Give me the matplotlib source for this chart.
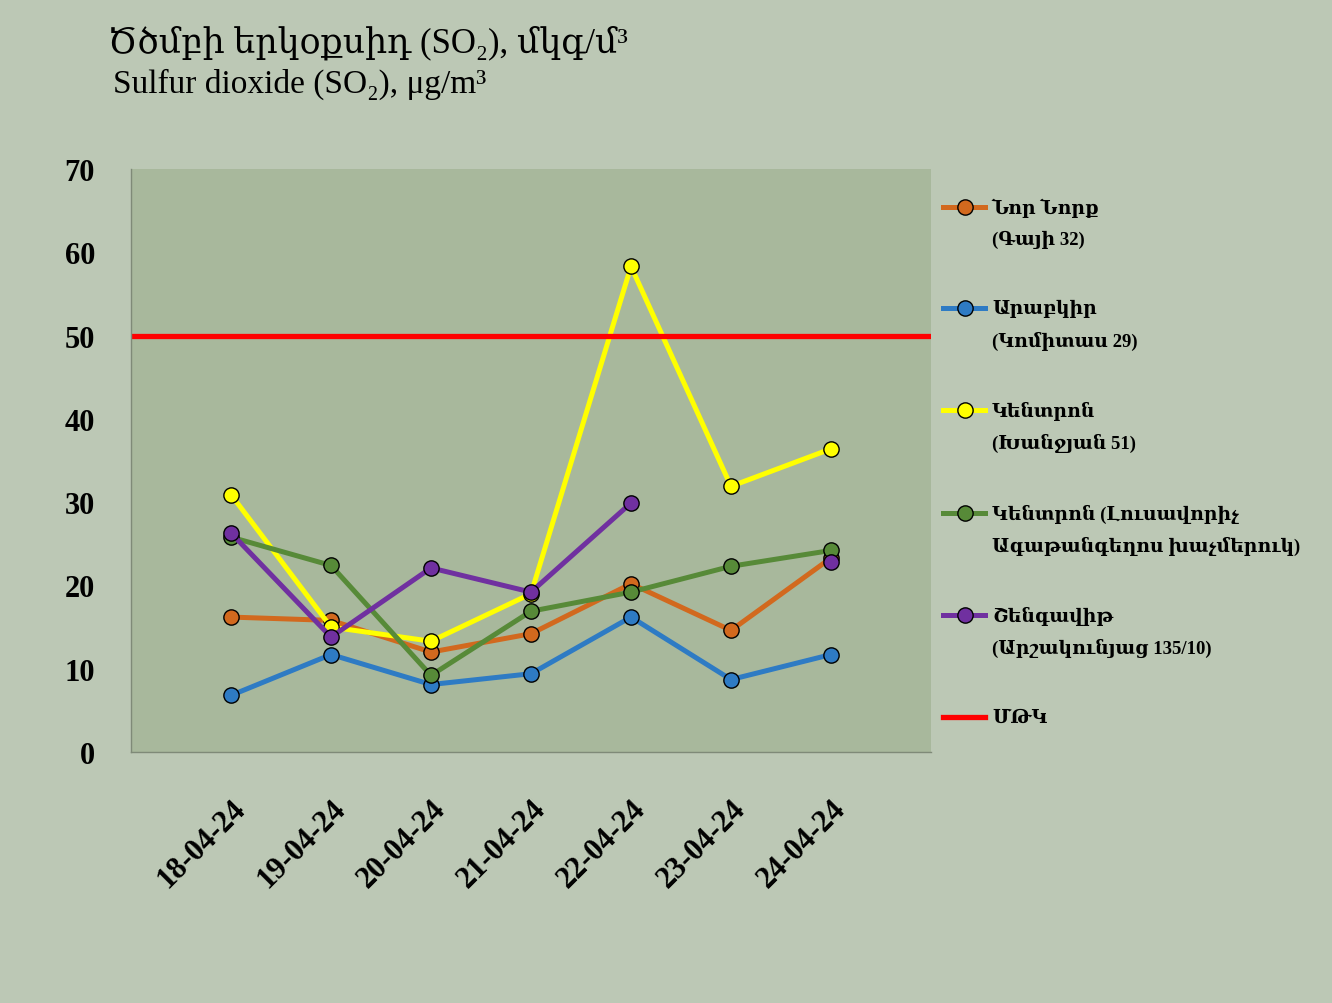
import numpy as np
import matplotlib.pyplot as plt
from matplotlib.lines import Line2D

plt.rcParams['font.family'] = ['Liberation Serif', 'DejaVu Serif']

# Data
dates = ['18-04-24', '19-04-24', '20-04-24', '21-04-24', '22-04-24', '23-04-24', '24-04-24']
nor_nork = [16.2, 15.8, 12.0, 14.2, 20.2, 14.6, 23.3]
arabkir = [6.8, 11.7, 8.1, 9.4, 16.2, 8.7, 11.7]
kentron_khanjyan = [30.9, 15.0, 13.3, 19.0, 58.3, 31.9, 36.4]
kentron_lusavorich = [25.8, 22.4, 9.2, 16.9, 19.2, 22.3, 24.2]
shengavit = [26.3, 13.8, 22.1, 19.2, 29.9, np.nan, 22.8]
mtk = 50

labels = ['Նոր Նորք\n(Գայի 32)',
          'Արաբկիր\n(Կոմիտաս 29)',
          'Կենտրոն\n(Խանջյան 51)',
          'Կենտրոն (Լուսավորիչ\nԱգաթանգեղոս խաչմերուկ)',
          'Շենգավիթ\n(Արշակունյաց 135/10)']
mtk_label = 'ՄԹԿ'
colors = ['#D2691E', '#2E7BC4', '#FFFF00', '#578A38', '#7030A0']

W, H = 1332, 1004
fig = plt.figure(figsize=(W / 100, H / 100), dpi=100, facecolor='#BCC8B5')
ax = fig.add_axes([131/W, 1 - 753/H, 800/W, 583/H])
ax.set_facecolor('#A8B89C')

x = np.arange(len(dates))
series = [nor_nork, arabkir, kentron_khanjyan, kentron_lusavorich, shengavit]
for vals, c in zip(series, colors):
    ax.plot(x, vals, color=c, lw=3.6, marker='o', ms=11,
            markerfacecolor=c, markeredgecolor='black', markeredgewidth=1)
ax.axhline(mtk, color='#FF0000', lw=3.8)

ax.set_xlim(-1, 7)
ax.set_ylim(0, 70)
ax.set_yticks(range(0, 71, 10))
ax.set_xticks(x)
ax.set_xticklabels(dates, rotation=45, ha='right', rotation_mode='anchor')
ax.tick_params(axis='both', length=0, labelsize=22)
ax.tick_params(axis='y', pad=26)
ax.tick_params(axis='x', pad=30)
for t in ax.get_xticklabels() + ax.get_yticklabels():
    t.set_fontweight('bold')

for s in ['top', 'right']:
    ax.spines[s].set_visible(False)
for s in ['left', 'bottom']:
    ax.spines[s].set_color('#7F8A78')
    ax.spines[s].set_linewidth(1)

# legend drawn by hand so the handle sits on the first text line
entry_y = [208, 309, 411, 514, 616, 718]
for i, y in enumerate(entry_y):
    fy = 1 - y / H
    if i < len(labels):
        c = colors[i]
        fig.add_artist(Line2D([943/W, 985/W], [fy, fy], color=c, lw=3.6))
        fig.add_artist(Line2D([965/W], [fy], color=c, marker='o', ms=11,
                              markeredgecolor='black', markeredgewidth=1))
        first, second = labels[i].split('\n')
        fig.text(992/W, fy, first, fontsize=13.5, fontweight='bold', ha='left', va='center')
        fig.text(992/W, 1 - (y + 32) / H, second, fontsize=13.5, fontweight='bold', ha='left', va='center')
    else:
        fig.add_artist(Line2D([943/W, 985/W], [fy, fy], color='#FF0000', lw=3.8))
        fig.text(992/W, fy, mtk_label, fontsize=13.5, fontweight='bold', ha='left', va='center')

fig.text(108/W, 1 - 52/H, 'Ծծմբի երկօքսիդ (SO₂), մկգ/մ³', fontsize=25, ha='left', va='baseline')
fig.text(113/W, 1 - 93/H, 'Sulfur dioxide (SO₂), μg/m³', fontsize=24, ha='left', va='baseline')

fig.savefig('out.png', dpi=100, facecolor=fig.get_facecolor())
